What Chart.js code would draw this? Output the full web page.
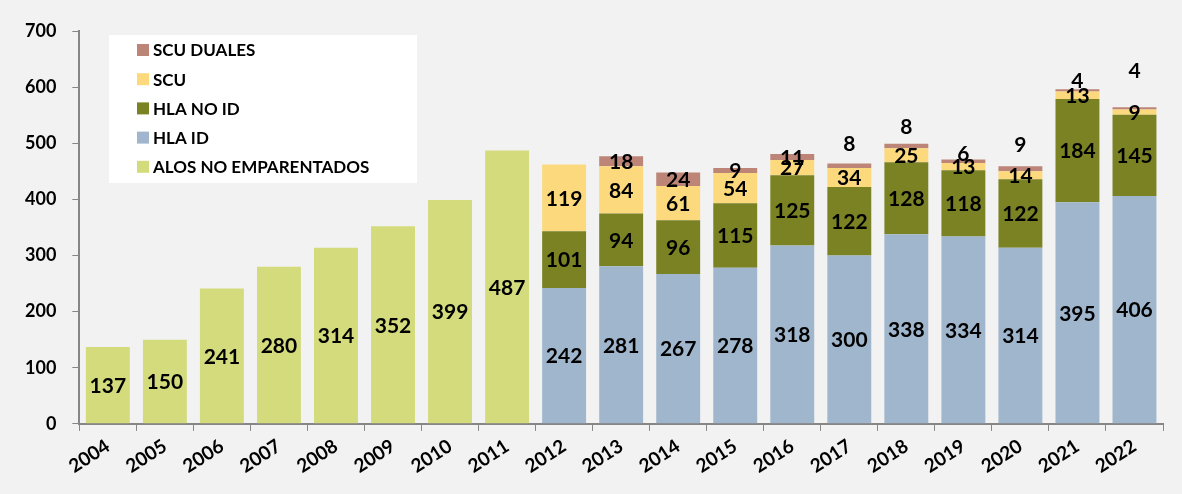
<!DOCTYPE html>
<html>
<head>
<meta charset="utf-8">
<script src="https://cdn.jsdelivr.net/npm/chart.js@4.4.0/dist/chart.umd.min.js"></script>
<style>
  html, body { margin: 0; padding: 0; background: #f2f2f2; }
  #wrap { width: 1182px; height: 494px; position: relative; }
</style>
</head>
<body>
<div id="wrap"><canvas id="grafico"></canvas></div>
<script>
// datos
const anios = ['2004','2005','2006','2007','2008','2009','2010','2011','2012','2013','2014','2015','2016','2017','2018','2019','2020','2021','2022'];
const alosNoEmp = [137,150,241,280,314,352,399,487,null,null,null,null,null,null,null,null,null,null,null];
const hlaId     = [null,null,null,null,null,null,null,null,242,281,267,278,318,300,338,334,314,395,406];
const hlaNoId   = [null,null,null,null,null,null,null,null,101,94,96,115,125,122,128,118,122,184,145];
const scu       = [null,null,null,null,null,null,null,null,119,84,61,54,27,34,25,13,14,13,9];
const scuDuales = [null,null,null,null,null,null,null,null,null,18,24,9,11,8,8,6,9,4,4];

// desplazamiento vertical (px) de las etiquetas de SCU DUALES, como en el original
const ajusteDuales = [0,0,0,0,0,0,0,0,0,0,0,0,0,-22,-20,-8,-25,-10,-38];

const fuente = 'Lato, "Liberation Sans", sans-serif';

// etiquetas en el centro de cada segmento
const pluginEtiquetas = {
    id: 'etiquetas',
    afterDatasetsDraw(chart) {
        const ctx = chart.ctx;
        ctx.save();
        ctx.font = 'bold 21px ' + fuente;
        ctx.fillStyle = '#000';
        ctx.textAlign = 'center';
        ctx.textBaseline = 'middle';
        chart.data.datasets.forEach((ds, i) => {
            const meta = chart.getDatasetMeta(i);
            meta.data.forEach((bar, j) => {
                const v = ds.data[j];
                if (v === null || v === undefined) return;
                let y = (bar.y + bar.base) / 2;
                if (ds.label === 'SCU DUALES') y += ajusteDuales[j];
                ctx.fillText(String(v), bar.x, y + 1);
            });
        });
        ctx.restore();
    }
};

// leyenda dentro del área del gráfico, con fondo blanco
const pluginLeyenda = {
    id: 'leyendaCaja',
    afterDraw(chart) {
        const ctx = chart.ctx;
        ctx.save();
        ctx.fillStyle = '#ffffff';
        ctx.fillRect(109, 35, 308, 148);
        ctx.font = 'bold 17px ' + fuente;
        ctx.textAlign = 'left';
        ctx.textBaseline = 'middle';
        const items = chart.data.datasets.slice().reverse();
        items.forEach((ds, k) => {
            const y = 50 + k * 29.2;
            ctx.fillStyle = ds.backgroundColor;
            ctx.fillRect(137, y - 6, 12, 12);
            ctx.fillStyle = '#000';
            ctx.fillText(ds.label, 153, y + 1);
        });
        ctx.restore();
    }
};

const config = {
    type: 'bar',
    data: {
        labels: anios,
        datasets: [
            { label: 'ALOS NO EMPARENTADOS', data: alosNoEmp, backgroundColor: '#d3db7c' },
            { label: 'HLA ID', data: hlaId, backgroundColor: '#9fb6cd' },
            { label: 'HLA NO ID', data: hlaNoId, backgroundColor: '#7a8224' },
            { label: 'SCU', data: scu, backgroundColor: '#fbd97c' },
            { label: 'SCU DUALES', data: scuDuales, backgroundColor: '#bc8577' }
        ]
    },
    options: {
        responsive: true,
        maintainAspectRatio: false,
        animation: false,
        devicePixelRatio: 1,
        barPercentage: 0.77,
        categoryPercentage: 1.0,
        layout: { padding: { left: 9, right: 19, top: 31, bottom: 12 } },
        plugins: {
            legend: { display: false },
            tooltip: { enabled: false }
        },
        scales: {
            x: {
                stacked: true,
                grid: { drawOnChartArea: false, color: '#868686', tickLength: 7, offset: true },
                border: { color: '#868686', width: 2 },
                ticks: {
                    color: '#000',
                    font: { family: fuente, size: 19, weight: 'bold' },
                    minRotation: 33,
                    maxRotation: 33,
                    padding: 4,
                    autoSkip: false
                }
            },
            y: {
                stacked: true,
                min: 0,
                max: 700,
                grid: { drawOnChartArea: false, color: '#868686', tickLength: 7 },
                border: { color: '#868686', width: 2 },
                ticks: {
                    stepSize: 100,
                    color: '#000',
                    font: { family: fuente, size: 18, weight: 'bold' },
                    padding: 16
                }
            }
        }
    },
    plugins: [pluginEtiquetas, pluginLeyenda]
};

document.addEventListener('DOMContentLoaded', function() {
    const ctx = document.getElementById('grafico').getContext('2d');
    new Chart(ctx, config);
});
</script>
</body>
</html>
